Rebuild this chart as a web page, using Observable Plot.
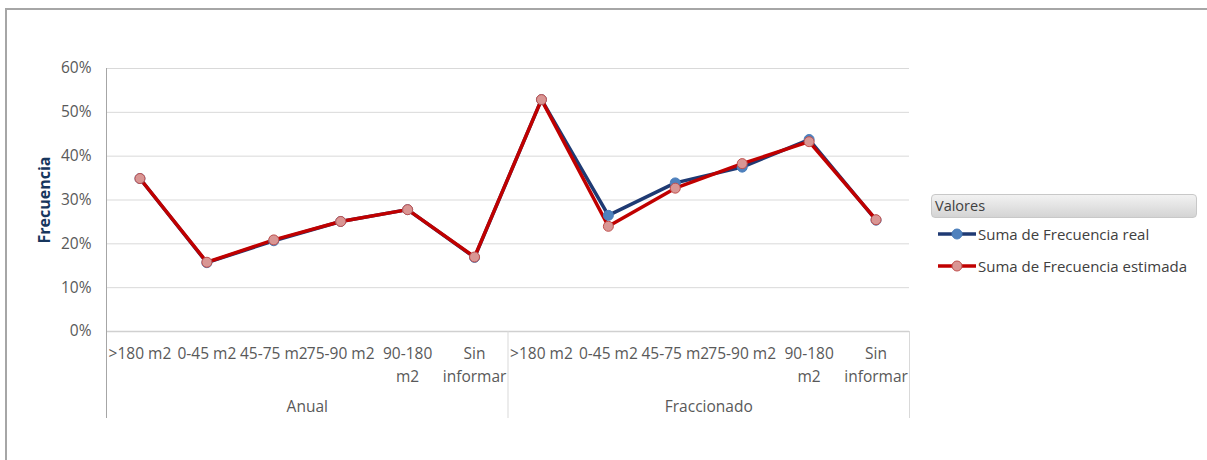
<!DOCTYPE html>
<html>
<head>
<meta charset="utf-8">
<script src="https://cdn.jsdelivr.net/npm/d3@7"></script>
<script src="https://cdn.jsdelivr.net/npm/@observablehq/plot@0.6"></script>
<style>
  html, body { margin: 0; padding: 0; background: #ffffff; }
  body { width: 1207px; height: 460px; overflow: hidden; position: relative; font-family: "Open Sans", Lato, sans-serif; }
  #frame { position: absolute; left: 5px; top: 8px; width: 1210px; height: 460px; border-left: 2px solid #a6a6a6; border-top: 2px solid #a6a6a6; box-sizing: border-box; }
  #chart { position: absolute; left: 0; top: 0; }
  #legend { position: absolute; left: 931px; top: 194px; width: 266px; color: #404040; }
  #legend .head { height: 24px; border: 1px solid #c8c8c8; border-radius: 4px; background: linear-gradient(#f2f2f2, #d4d4d4); font-size: 14.5px; line-height: 22px; padding-left: 3px; box-sizing: border-box; }
  #legend .item { position: relative; height: 32px; font-size: 15px; line-height: 32px; padding-left: 47px; white-space: nowrap; }
  #legend svg { position: absolute; left: 6px; top: 8px; }
</style>
</head>
<body>
<div id="frame"></div>
<div id="chart"></div>
<div id="legend"></div>
<script>
// Categories: size bands inside each contract group
const groups = ["Anual", "Fraccionado"];
const sizes = [">180 m2", "0-45 m2", "45-75 m2", "75-90 m2", "90-180 m2", "Sin informar"];
const sizeLabels = [">180 m2", "0-45 m2", "45-75 m2", "75-90 m2", "90-180\nm2", "Sin\ninformar"];
const yTicks = [0, 0.1, 0.2, 0.3, 0.4, 0.5, 0.6];

// Series values (share of records), Anual first then Fraccionado
const realAnual = [0.349, 0.157, 0.207, 0.251, 0.278, 0.169];
const realFrac = [0.529, 0.265, 0.339, 0.375, 0.438, 0.254];
const estAnual = [0.349, 0.158, 0.209, 0.251, 0.278, 0.170];
const estFrac = [0.529, 0.240, 0.327, 0.383, 0.433, 0.255];

const seriesNames = ["Suma de Frecuencia real", "Suma de Frecuencia estimada"];
const lineColors = ["#1f3a73", "#c00000"];
const dotFill = ["#4f81bd", "#d99694"];
const dotStroke = ["#4a7ebb", "#c0504d"];

// Long table: one row per group/size/series; x is the category slot centre
function rows(name, a, f) {
  const out = [];
  [a, f].forEach((vals, g) => vals.forEach((v, i) => out.push({
    series: name, group: groups[g], size: sizes[i], pos: g * sizes.length + i + 0.5, value: v
  })));
  return out;
}
const data = [
  ...rows(seriesNames[0], realAnual, realFrac),
  ...rows(seriesNames[1], estAnual, estFrac)
];

const n = groups.length * sizes.length;
const tickPositions = d3.range(n).map(i => i + 0.5);
const tickText = tickPositions.map((_, i) => sizeLabels[i % sizes.length]);
const groupCentres = groups.map((_, g) => g * sizes.length + sizes.length / 2);
const separators = d3.range(groups.length + 1).map(g => g * sizes.length);

const font = "'Open Sans', Lato, sans-serif";

const chart = Plot.plot({
  width: 1207,
  height: 460,
  marginLeft: 106,
  marginRight: 298,
  marginTop: 68,
  marginBottom: 129,
  style: { fontFamily: font, fontSize: "15px", color: "#595959", background: "transparent" },
  x: { type: "linear", domain: [0, n], axis: null },
  y: { domain: [0, 0.6], axis: null },
  color: { domain: seriesNames, range: lineColors },
  marks: [
    Plot.ruleY(yTicks.slice(1), { stroke: "#d9d9d9", strokeWidth: 1 }),
    Plot.ruleY([0], { stroke: "#d0d0d0", strokeWidth: 1.5 }),
    Plot.ruleX([0], { stroke: "#a6a6a6", strokeWidth: 1, insetBottom: -87 }),
    Plot.ruleX(separators.slice(1), { stroke: "#d9d9d9", strokeWidth: 1, insetTop: 263, insetBottom: -87 }),
    Plot.axisY({ ticks: yTicks, tickSize: 0, tickPadding: 15, tickFormat: d3.format(".0%"), label: null, fontSize: 15.5, fill: "#595959" }),
    Plot.axisX({ ticks: tickPositions, tickSize: 0, tickPadding: 12, tickFormat: (d, i) => tickText[i], label: null, fontSize: 15.5, fill: "#595959", lineHeight: 1.45 }),
    Plot.text(groupCentres, { x: d => d, y: 0, text: (d, i) => groups[i], dy: 76, fontSize: 15.5, fill: "#595959" }),
    Plot.text(["Frecuencia"], { frameAnchor: "left", textAnchor: "middle", dx: -62, rotate: -90, fontWeight: "bold", fontSize: 16, fill: "#17365d" }),
    Plot.line(data, { x: "pos", y: "value", z: "series", stroke: "series", strokeWidth: 3.5, strokeLinejoin: "round", curve: "linear" }),
    Plot.dot(data, {
      x: "pos", y: "value", r: 5,
      fill: d => dotFill[seriesNames.indexOf(d.series)],
      stroke: d => dotStroke[seriesNames.indexOf(d.series)],
      strokeWidth: 1
    })
  ]
});
document.getElementById("chart").appendChild(chart);

// Legend on the right: header box plus one swatch per series
const legend = d3.select("#legend");
legend.append("div").attr("class", "head").text("Valores");
seriesNames.forEach((name, i) => {
  const item = legend.append("div").attr("class", "item");
  const sw = item.append("svg").attr("width", 40).attr("height", 16);
  sw.append("line").attr("x1", 1).attr("x2", 39).attr("y1", 8).attr("y2", 8)
    .attr("stroke", lineColors[i]).attr("stroke-width", 3.5);
  sw.append("circle").attr("cx", 20).attr("cy", 8).attr("r", 5)
    .attr("fill", dotFill[i]).attr("stroke", dotStroke[i]);
  item.append("span").text(name);
});
</script>
</body>
</html>
